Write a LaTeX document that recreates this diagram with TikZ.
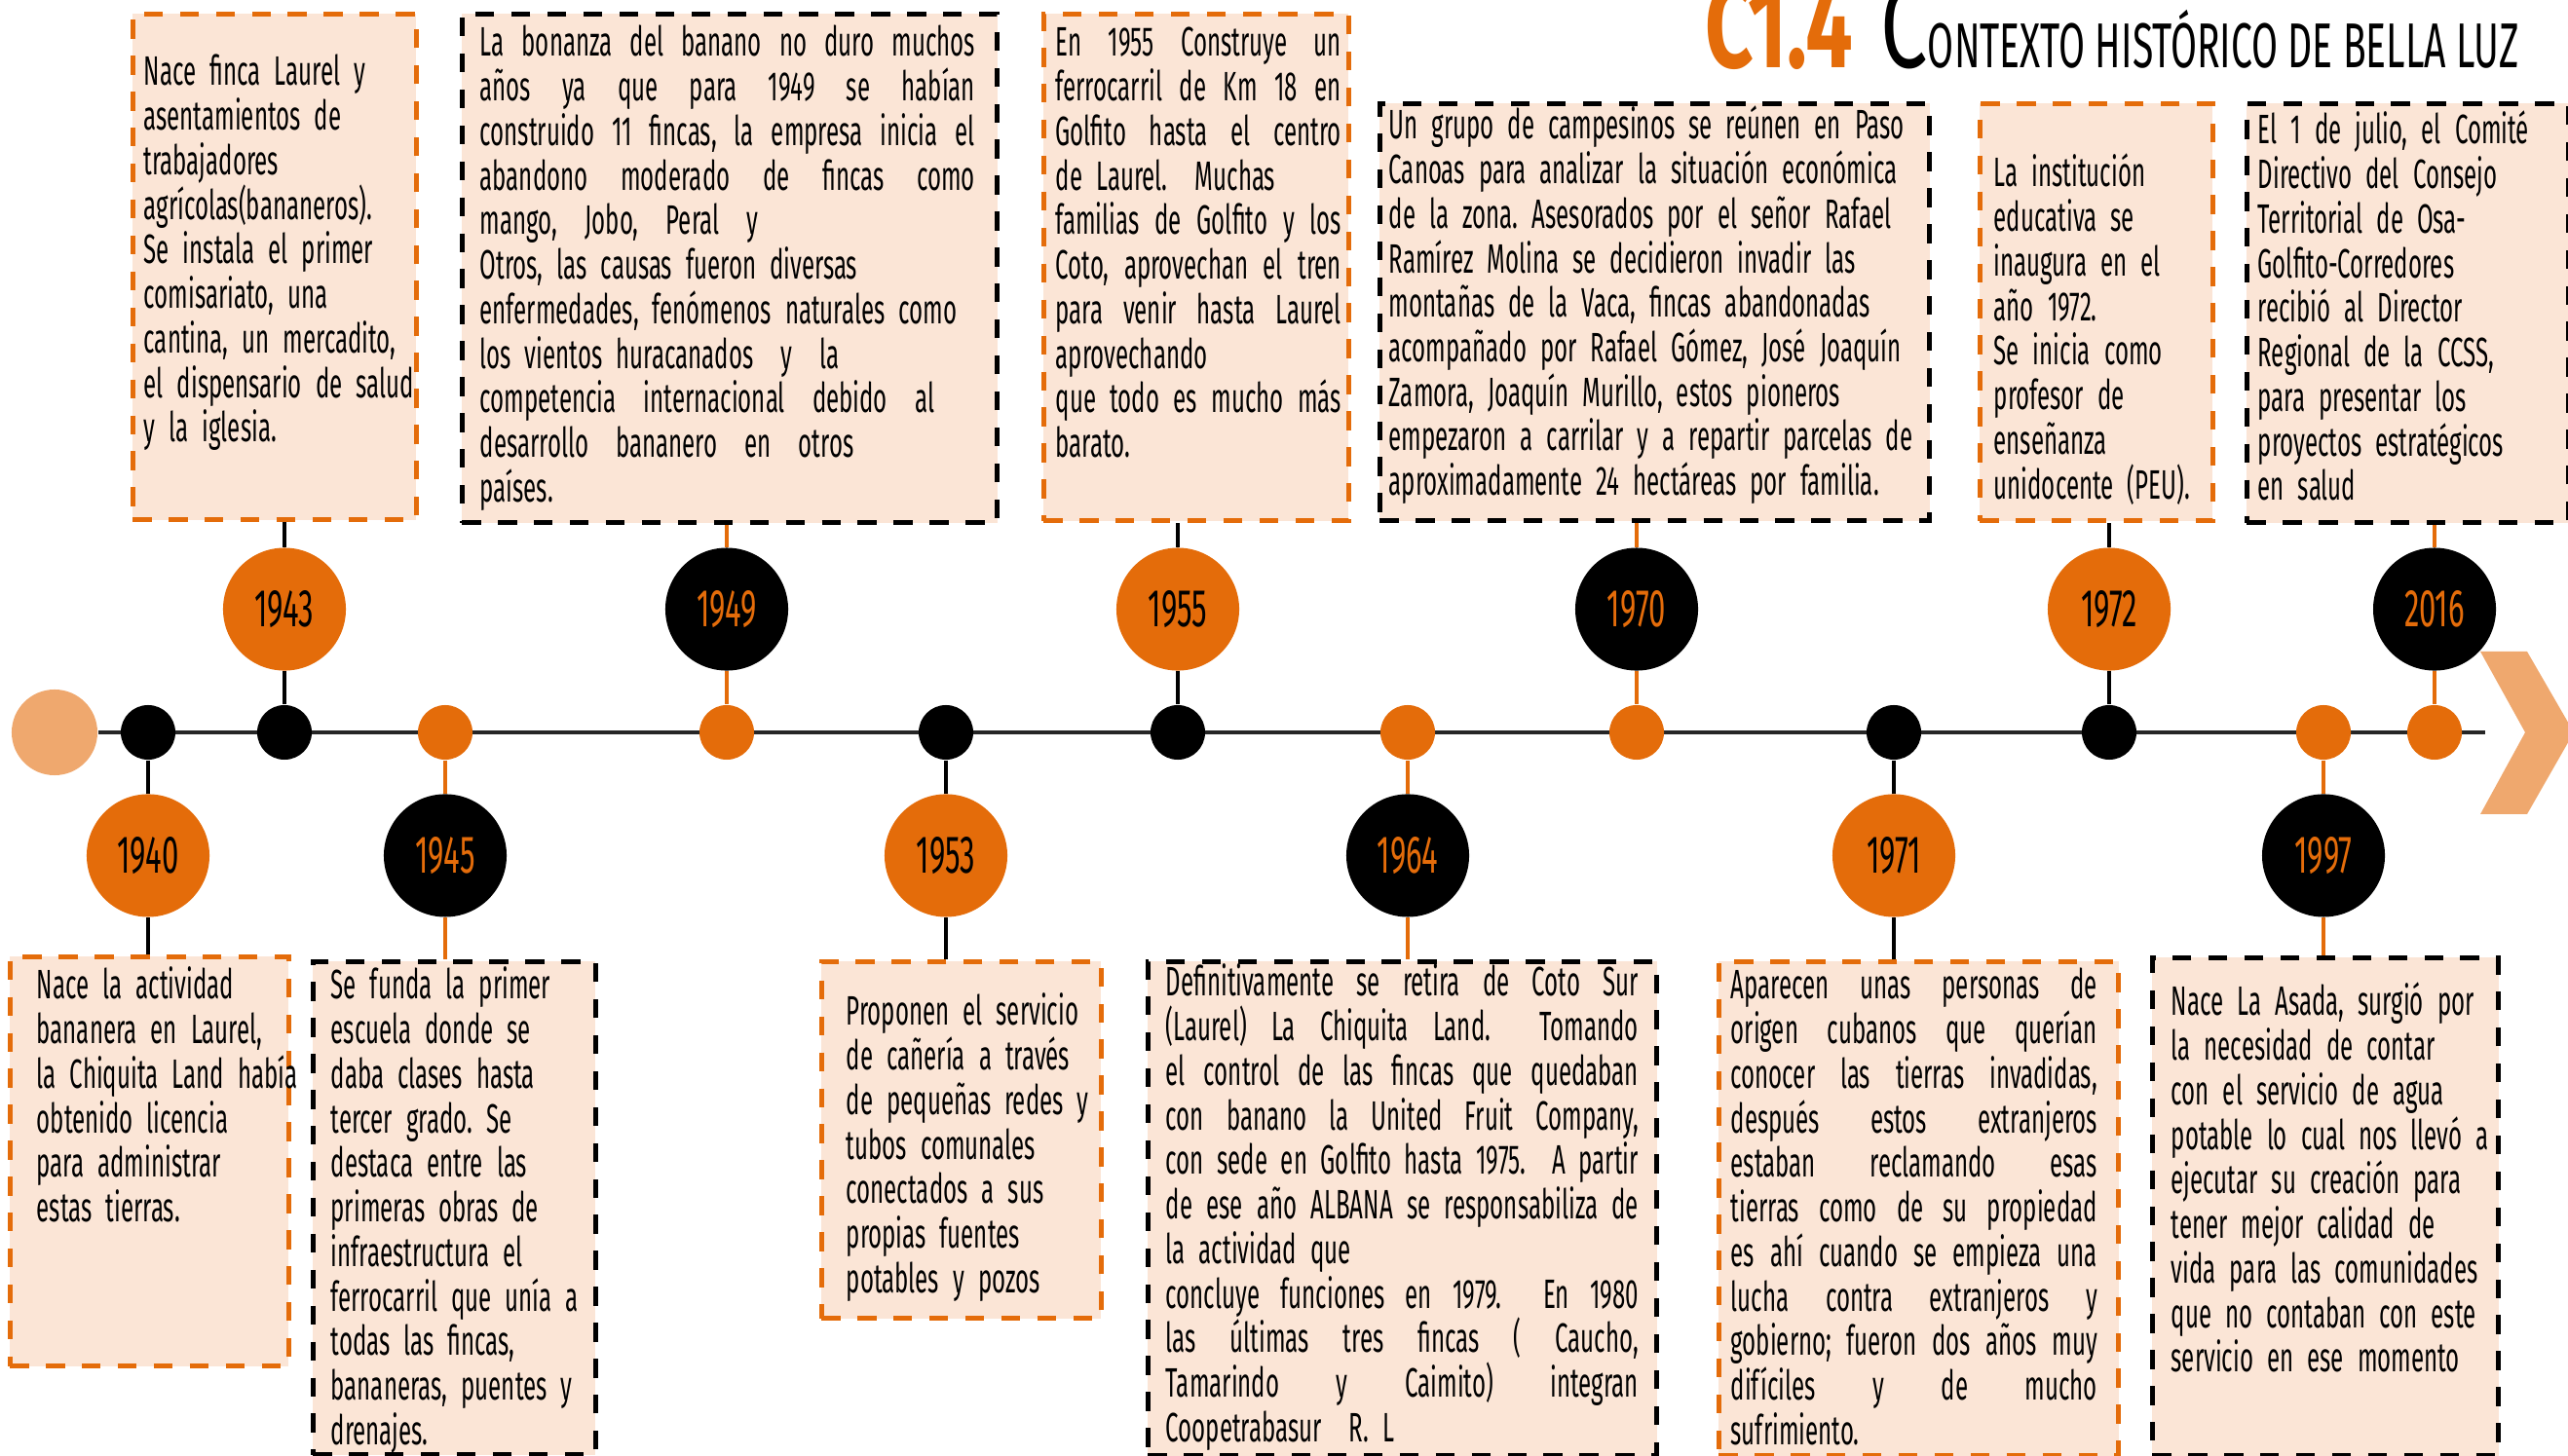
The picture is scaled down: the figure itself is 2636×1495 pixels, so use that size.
\documentclass[tikz,border=0pt]{standalone}
\usepackage{fontspec}
\setmainfont{Fira Sans}[FakeStretch=0.57, WordSpace=0.9]
\newfontfamily\titlefont{Fira Sans}[FakeStretch=0.7]
\newfontfamily\titlesc{Fira Sans}[FakeStretch=0.6]
\usetikzlibrary{positioning, calc}

\definecolor{naranja}{HTML}{E46C0A}
\definecolor{naranjaclaro}{HTML}{EFA86E}
\definecolor{crema}{HTML}{FBE5D6}
\definecolor{eje}{HTML}{262626}

% linea justificada dentro de un recuadro
\newcommand{\jl}[1]{\leavevmode\hbox to \hsize{\spaceskip=0.22em plus 3em minus 0.08em\relax #1}}

\frenchspacing

\begin{document}
\begin{tikzpicture}[
    x=0.01cm, y=-0.01cm,
    axis dot/.style={circle, fill=#1, minimum size=0.56cm, inner sep=0pt},
    year node/.style 2 args={
        circle, fill=#1, text=#2, minimum size=1.26cm, inner sep=0pt,
        font=\fontsize{15.5}{16}\selectfont
    },
    year stem/.style={draw=#1, line width=1pt},
    event box/.style={
        draw=#1, fill=crema, rectangle, inner sep=0pt, anchor=north west,
        line width=1.3pt, dash pattern=on 5.5pt off 5pt
    },
    event text/.style={anchor=base west, inner sep=0pt, align=left, font=\fontsize{12}{13}\selectfont}
]

\useasboundingbox (0,0) rectangle (2636,1495);

% ------------------------------------------------------------------------------
% 1. TITULO
% ------------------------------------------------------------------------------
\node[anchor=base east, inner sep=0pt, text=naranja, font=\titlefont\bfseries\fontsize{35}{35}\selectfont] (codigo) at (1903,70) {C1.4};
\node[right=0.27cm of codigo.base east, anchor=base west, inner sep=0pt] (titulo)
    {{\titlefont\fontsize{35}{35}\selectfont C}{\titlesc\fontsize{18.5}{19}\selectfont ONTEXTO HISTÓRICO DE BELLA LUZ}};

% ------------------------------------------------------------------------------
% 2. EJE DEL TIEMPO
% ------------------------------------------------------------------------------
\node[axis dot=naranjaclaro, minimum size=0.88cm] (inicio) at (56,752) {};
\coordinate (fin) at (2551,752);
\draw[eje, line width=1.1pt] (inicio) -- (fin);
\fill[naranjaclaro] (2546,669) -- (2594,669) -- (2642,752) -- (2594,836) -- (2546,836) -- (2592,752) -- cycle;

\foreach \yr/\x/\col in {1940/152/black, 1943/292/black, 1945/457/naranja, 1949/746/naranja,
                         1953/971/black, 1955/1209/black, 1964/1445/naranja, 1970/1680/naranja,
                         1971/1944/black, 1972/2165/black, 1997/2385/naranja, 2016/2499/naranja}
    \node[axis dot=\col] (d\yr) at (\x,752) {};

% ------------------------------------------------------------------------------
% 3. AÑOS (arriba y abajo del eje)
% ------------------------------------------------------------------------------
\foreach \yr/\col/\tcol in {1943/naranja/black, 1949/black/naranja, 1955/naranja/black,
                            1970/black/naranja, 1972/naranja/black, 2016/black/naranja}
    \node[year node={\col}{\tcol}, above=0.34cm of d\yr] (c\yr) {\yr};

\foreach \yr/\col/\tcol in {1940/naranja/black, 1945/black/naranja, 1953/naranja/black,
                            1964/black/naranja, 1971/naranja/black, 1997/black/naranja}
    \node[year node={\col}{\tcol}, below=0.34cm of d\yr] (c\yr) {\yr};

% ------------------------------------------------------------------------------
% 4. RECUADROS
% ------------------------------------------------------------------------------
\foreach \yr/\x/\y/\w/\h/\col in {1943/134/12/2.91/5.19/naranja, 1949/472/12/5.49/5.22/black,
                                  1955/1069/12/3.13/5.20/naranja, 1970/1414/104/5.64/4.28/black,
                                  1972/2030/104/2.39/4.28/naranja, 2016/2304/104/3.30/4.30/black,
                                  1940/8/980/2.86/4.20/naranja, 1945/319/985/2.90/5.06/black,
                                  1953/841/985/2.87/3.66/naranja, 1964/1176/985/5.22/5.07/black,
                                  1971/1762/985/4.10/5.07/naranja, 1997/2207/981/3.55/5.11/black}
    \node[event box=\col, minimum width=\w cm, minimum height=\h cm] (b\yr) at (\x,\y) {};

% tallos: punto -> año -> recuadro
\foreach \yr/\col in {1943/black, 1949/naranja, 1955/black, 1970/naranja, 1972/black, 2016/naranja} {
    \draw[year stem=\col] (d\yr) -- (c\yr);
    \draw[year stem=\col] (c\yr) -- (c\yr |- b\yr.south);
}
\foreach \yr/\col in {1940/black, 1945/naranja, 1953/black, 1964/naranja, 1971/black, 1997/naranja} {
    \draw[year stem=\col] (d\yr) -- (c\yr);
    \draw[year stem=\col] (c\yr) -- (c\yr |- b\yr.north);
}

% ------------------------------------------------------------------------------
% 5. TEXTOS
% ------------------------------------------------------------------------------
\node[event text, text width=2.85cm] (t1943) at (147,88) {Nace finca Laurel y\\asentamientos de\\trabajadores\\agrícolas(bananeros).\\Se instala el primer\\comisariato, una\\cantina, un mercadito,\\el dispensario de salud\\y la iglesia.};

\node[event text, text width=5.08cm] (t1949) at (492,58) {\jl{La bonanza del banano no duro muchos}\\\jl{años ya que para 1949 se habían}\\\jl{construido 11 fincas, la empresa inicia el}\\\jl{abandono moderado de fincas como}\\mango,~~Jobo,~~Peral~~y\\Otros, las causas fueron diversas\\enfermedades, fenómenos naturales como\\los vientos huracanados~~y~~la\\competencia~~internacional~~debido~~al\\desarrollo~~bananero~~en~~otros\\países.};

\node[event text, text width=2.93cm] (t1955) at (1083,58) {\jl{En 1955 Construye un}\\\jl{ferrocarril de Km 18 en}\\\jl{Golfito hasta el centro}\\de Laurel.~~Muchas\\\jl{familias de Golfito y los}\\\jl{Coto, aprovechan el tren}\\\jl{para venir hasta Laurel}\\aprovechando\\\jl{que todo es mucho más}\\barato.};

\node[event text, text width=5.5cm] (t1970) at (1425,143) {Un grupo de campesinos se reúnen en Paso\\Canoas para analizar la situación económica\\de la zona. Asesorados por el señor Rafael\\Ramírez Molina se decidieron invadir las\\montañas de la Vaca, fincas abandonadas\\acompañado por Rafael Gómez, José Joaquín\\Zamora, Joaquín Murillo, estos pioneros\\empezaron a carrilar y a repartir parcelas de\\aproximadamente 24 hectáreas por familia.};

\node[event text, text width=2.3cm] (t1972) at (2046,192) {La institución\\educativa se\\inaugura en el\\año 1972.\\Se inicia como\\profesor de\\enseñanza\\unidocente (PEU).};

\node[event text, text width=3.2cm] (t2016) at (2317,148) {El 1 de julio, el Comité\\Directivo del Consejo\\Territorial de Osa-\\Golfito-Corredores\\recibió al Director\\Regional de la CCSS,\\para presentar los\\proyectos estratégicos\\en salud};

\node[event text, text width=2.8cm] (t1940) at (37,1026) {Nace la actividad\\bananera en Laurel,\\la Chiquita Land había\\obtenido licencia\\para administrar\\estas tierras.};

\node[event text, text width=2.8cm] (t1945) at (339,1026) {Se funda la primer\\escuela donde se\\daba clases hasta\\tercer grado. Se\\destaca entre las\\primeras obras de\\infraestructura el\\ferrocarril que unía a\\todas las fincas,\\bananeras, puentes y\\drenajes.};

\node[event text, text width=2.8cm] (t1953) at (868,1053) {Proponen el servicio\\de cañería a través\\de pequeñas redes y\\tubos comunales\\conectados a sus\\propias fuentes\\potables y pozos};

\node[event text, text width=4.85cm] (t1964) at (1196,1023) {\jl{Definitivamente se retira de Coto Sur}\\\jl{(Laurel) La Chiquita Land.~~Tomando}\\\jl{el control de las fincas que quedaban}\\\jl{con banano la United Fruit Company,}\\\jl{con sede en Golfito hasta 1975.~~A partir}\\\jl{de ese año ALBANA se responsabiliza de}\\la actividad que\\\jl{concluye funciones en 1979.~~En 1980}\\\jl{las últimas tres fincas ( Caucho,}\\\jl{Tamarindo y Caimito) integran}\\Coopetrabasur~~R. L};

\node[event text, text width=3.76cm] (t1971) at (1776,1026) {\jl{Aparecen unas personas de}\\\jl{origen cubanos que querían}\\\jl{conocer las tierras invadidas,}\\\jl{después estos extranjeros}\\\jl{estaban reclamando esas}\\\jl{tierras como de su propiedad}\\\jl{es ahí cuando se empieza una}\\\jl{lucha contra extranjeros y}\\\jl{gobierno; fueron dos años muy}\\\jl{difíciles y de mucho}\\sufrimiento.};

\node[event text, text width=3.3cm] (t1997) at (2228,1043) {Nace La Asada, surgió por\\la necesidad de contar\\con el servicio de agua\\potable lo cual nos llevó a\\ejecutar su creación para\\tener mejor calidad de\\vida para las comunidades\\que no contaban con este\\servicio en ese momento};

\end{tikzpicture}
\end{document}
